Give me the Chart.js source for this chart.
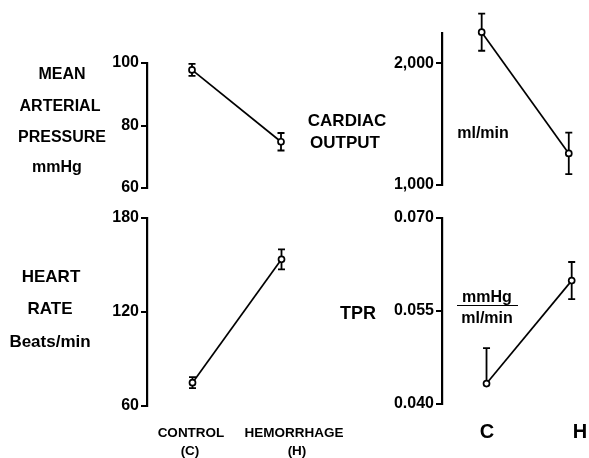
<!DOCTYPE html>
<html><head><meta charset="utf-8">
<script src="https://cdn.jsdelivr.net/npm/chart.js@4.4.1/dist/chart.umd.min.js"></script>
<style>
html,body{margin:0;padding:0;background:#fff;}
#wrap{position:relative;width:589px;height:458px;overflow:hidden;background:#fff;}
canvas{position:absolute;left:0;top:0;}
.lbl{position:absolute;font-family:"Liberation Sans",Arial,sans-serif;font-weight:bold;color:#000;white-space:nowrap;transform:translate(-50%,-50%);line-height:1;}
.frac{position:absolute;left:457px;top:305px;width:61px;height:0;border-top:1.5px solid #000;}
</style></head><body>
<div id="wrap">
<canvas id="c1" width="589" height="458"></canvas>
<canvas id="c2" width="589" height="458"></canvas>
<canvas id="c3" width="589" height="458"></canvas>
<canvas id="c4" width="589" height="458"></canvas>
<div class="lbl" style="left:62px;top:74px;font-size:16px">MEAN</div>
<div class="lbl" style="left:60px;top:106px;font-size:16px">ARTERIAL</div>
<div class="lbl" style="left:62px;top:137px;font-size:16px">PRESSURE</div>
<div class="lbl" style="left:57px;top:167px;font-size:16px">mmHg</div>
<div class="lbl" style="left:347px;top:120px;font-size:17px">CARDIAC</div>
<div class="lbl" style="left:345px;top:142px;font-size:17px">OUTPUT</div>
<div class="lbl" style="left:483px;top:133px;font-size:16px">ml/min</div>
<div class="lbl" style="left:51px;top:276px;font-size:17px">HEART</div>
<div class="lbl" style="left:50px;top:308px;font-size:17px">RATE</div>
<div class="lbl" style="left:50px;top:341px;font-size:17px">Beats/min</div>
<div class="lbl" style="left:358px;top:313px;font-size:18px">TPR</div>
<div class="lbl" style="left:487px;top:297px;font-size:16px">mmHg</div>
<div class="frac"></div>
<div class="lbl" style="left:487px;top:318px;font-size:16px">ml/min</div>
<div class="lbl" style="left:191px;top:433px;font-size:13.5px">CONTROL</div>
<div class="lbl" style="left:190px;top:451px;font-size:13.5px">(C)</div>
<div class="lbl" style="left:294px;top:433px;font-size:13.5px">HEMORRHAGE</div>
<div class="lbl" style="left:297px;top:451px;font-size:13.5px">(H)</div>
<div class="lbl" style="left:487px;top:431px;font-size:20px">C</div>
<div class="lbl" style="left:580px;top:431px;font-size:20px">H</div>
</div>
<script>
// ---- data ----
const groups = ['C', 'H'];

const mapMean = [97.8, 74.8];
const mapErrUp = [1.9, 2.8];
const mapErrDown = [1.9, 2.8];
const mapTicks = [60, 80, 100];
const mapTickLabels = ['60', '80', '100'];

const coMean = [2257, 1260];
const coErrUp = [153, 170];
const coErrDown = [153, 170];
const coTicks = [1000, 2000];
const coTickLabels = ['1,000', '2,000'];

const hrMean = [74.9, 153.6];
const hrErrUp = [3.5, 6.4];
const hrErrDown = [3.5, 6.4];
const hrTicks = [60, 120, 180];
const hrTickLabels = ['60', '120', '180'];

const tprMean = [0.0433, 0.0599];
const tprErrUp = [0.0057, 0.0030];
const tprErrDown = [0, 0.0030];
const tprTicks = [0.040, 0.055, 0.070];
const tprTickLabels = ['0.040', '0.055', '0.070'];

// ---- error bar plugin ----
const errorBars = {
  id: 'errorBars',
  beforeDatasetsDraw(chart, args, opts) {
    const ctx = chart.ctx;
    const xs = chart.scales.x, ys = chart.scales.y;
    const ds = chart.data.datasets[0];
    ctx.save();
    ctx.strokeStyle = '#000';
    ctx.lineWidth = 1.8;
    ds.data.forEach((p, i) => {
      const x = xs.getPixelForValue(p.x);
      const yt = ys.getPixelForValue(p.y + opts.up[i]);
      const yb = ys.getPixelForValue(p.y - opts.down[i]);
      const cw = 3.5;
      ctx.beginPath();
      ctx.moveTo(x, yt); ctx.lineTo(x, yb);
      if (opts.up[i] > 0) { ctx.moveTo(x - cw, yt); ctx.lineTo(x + cw, yt); }
      if (opts.down[i] > 0) { ctx.moveTo(x - cw, yb); ctx.lineTo(x + cw, yb); }
      ctx.stroke();
    });
    ctx.restore();
  }
};

function makePanel(id, mean, up, down, ticks, tickLabels, lay) {
  const W = 589, H = 458, yw = 60;
  const L = lay.axisX, R = lay.right;
  const span = (R - L) / (lay.xH - lay.xC);
  const xmin = -(lay.xC - L) / (lay.xH - lay.xC);
  const xmax = xmin + span;
  new Chart(document.getElementById(id), {
    type: 'line',
    data: {
      datasets: [{
        data: groups.map((g, i) => ({ x: i, y: mean[i] })),
        borderColor: '#000',
        borderWidth: 1.7,
        pointRadius: 3,
        pointBorderWidth: 1.7,
        pointBackgroundColor: '#fff',
        pointBorderColor: '#000',
        fill: false,
        tension: 0,
        clip: false
      }]
    },
    options: {
      responsive: false,
      animation: false,
      events: [],
      layout: { padding: { left: L - yw, right: W - R, top: lay.top, bottom: H - lay.bottom } },
      plugins: {
        legend: { display: false },
        tooltip: { enabled: false },
        errorBars: { up: up, down: down }
      },
      scales: {
        x: { type: 'linear', display: false, min: xmin, max: xmax },
        y: {
          type: 'linear',
          min: lay.min, max: lay.max,
          afterFit: s => { s.width = yw; },
          afterBuildTicks: s => { s.ticks = ticks.map(v => ({ value: v })); },
          border: { display: true, color: '#000', width: 2.2 },
          grid: { drawOnChartArea: false, drawTicks: true, tickLength: 6, color: '#000', lineWidth: 2 },
          ticks: {
            color: '#000',
            padding: 2,
            font: { family: 'Liberation Sans', weight: 'bold', size: 16 },
            callback: (v, i) => tickLabels[i]
          }
        }
      }
    },
    plugins: [errorBars]
  });
}

makePanel('c1', mapMean, mapErrUp, mapErrDown, mapTicks, mapTickLabels,
  { axisX: 147, right: 300, top: 63, bottom: 188, min: 60, max: 100, xC: 192, xH: 281 });
makePanel('c2', coMean, coErrUp, coErrDown, coTicks, coTickLabels,
  { axisX: 442, right: 588, top: 33, bottom: 185, min: 1000, max: 2250, xC: 483, xH: 573 });
makePanel('c3', hrMean, hrErrUp, hrErrDown, hrTicks, hrTickLabels,
  { axisX: 147, right: 300, top: 218, bottom: 406, min: 60, max: 180, xC: 192.5, xH: 281.5 });
makePanel('c4', tprMean, tprErrUp, tprErrDown, tprTicks, tprTickLabels,
  { axisX: 442, right: 588, top: 218, bottom: 404, min: 0.040, max: 0.070, xC: 488, xH: 576 });
</script>
</body></html>
